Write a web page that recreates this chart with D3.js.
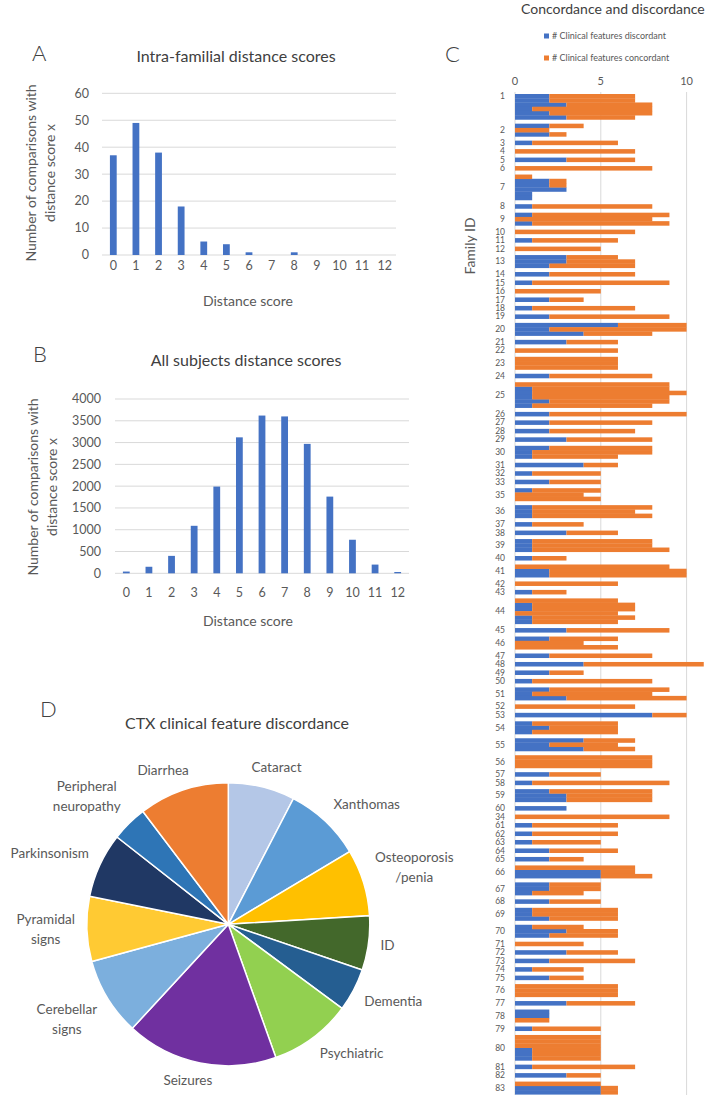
<!DOCTYPE html>
<html lang="en">
<head>
<meta charset="UTF-8">
<title>CTX distance scores and clinical feature discordance</title>
<script src="https://d3js.org/d3.v7.min.js"></script>
<style>
  body { margin: 0; background: #fff; font-family: Lato, "Open Sans", sans-serif; }
  svg text { fill: #595959; }
  .title { fill: #404040; }
  .panel { fill: #404040; font-weight: 300; }
</style>
</head>
<body>
<svg id="fig" width="709" height="1098"></svg>
<script>
// ---- panels A & B: distance score histograms
const scoreLabels = ["0","1","2","3","4","5","6","7","8","9","10","11","12"];
const intraCounts = [37, 49, 38, 18, 5, 4, 1, 0, 1, 0, 0, 0, 0];
const allCounts = [40, 150, 400, 1090, 1990, 3120, 3620, 3600, 2970, 1760, 770, 200, 30];

// ---- panel C: one row per intra-familial comparison
const familyIds = [1,2,3,4,5,6,7,8,9,10,11,12,13,14,15,16,17,18,19,20,21,22,23,24,25,26,27,28,29,30,
  31,32,33,35,36,37,38,39,40,41,42,43,44,45,46,47,48,49,50,51,52,53,54,55,56,57,58,59,60,34,
  61,62,63,64,65,66,67,68,69,70,71,72,73,74,75,76,77,78,79,80,81,82,83];
const discordant = [[2,2,3,1,2,3],[2,0,2],[1],[0],[3],[0],[0,2,2,3,1,1],[1],[1,0,1],[0],[1],[0],[3,3,2],[2],[1],[0],[2],[1],[2],[6,2,4],
  [3],[0],[0,0,0],[2],[0,1,1,1,2,1],[2],[2],[2],[3],[2,1,1],[4],[1],[2],[1,0,0],[1,1,1],[1],[3],[1,1,1],[1],[0,2,2],
  [0],[1],[0,1,1,0,1,1],[3],[2,0,0],[2],[4],[2],[1],[2,1,3],[0],[8],[1,2,1],[4,2,4],[0,0,0],[2],[1],[2,3,3],[3],[0],
  [1],[1],[1],[2],[2],[0,5,5],[2,2,1],[2],[1,1,2],[1,3,2],[0],[3],[2],[1],[2],[0,0,0],[3],[2,2,0],[1],[0,0,0,1,1,1],
  [1],[3],[0,5,5]];
const concordant = [[5,5,5,7,6,4],[2,2,1],[5],[7],[4],[8],[1,1,1,0,0,0],[7],[8,8,8],[7],[5],[5],[3,4,5],[5],[8],[5],[2],[6],[7],[4,8,4],
  [3],[6],[6,6,6],[6],[9,8,9,8,7,7],[8],[6],[5],[5],[6,7,5],[2],[4],[3],[4,4,5],[7,6,7],[3],[3],[7,7,8],[2],[9,8,8],
  [6],[2],[6,6,6,6,6,5],[6],[4,4,6],[6],[7],[2],[7],[7,7,7],[7],[2],[5,4,5],[3,4,3],[8,8,8],[3],[8],[6,5,5],[0],[9],
  [5],[5],[4],[4],[2],[7,2,3],[3,3,3],[3],[5,5,4],[3,3,4],[4],[3],[5],[3],[2],[6,6,6],[4],[0,0,2],[4],[5,5,5,4,4,4],
  [6],[2],[5,1,1]];
const axisTicksC = [0, 5, 10];
const seriesNames = ["# Clinical features discordant", "# Clinical features concordant"];

// ---- panel D: share of discordant features (%)
const featureNames = ["Cataract","Xanthomas","Osteoporosis\n/penia","ID","Dementia","Psychiatric","Seizures",
  "Cerebellar\nsigns","Pyramidal\nsigns","Parkinsonism","Peripheral\nneuropathy","Diarrhea"];
const featureShares = [7.6, 8.8, 7.6, 6.2, 4.9, 9.4, 17.3, 8.9, 7.4, 7.4, 4.1, 10.3];
const featureColors = ["#B4C7E7","#5B9BD5","#FFC000","#43682B","#255E91","#92D050","#7030A0",
  "#7CAFDD","#FFCA33","#203864","#2E75B6","#ED7D31"];

const BLUE = "#4472C4", ORANGE = "#ED7D31", GRID = "#D9D9D9";
const svg = d3.select("#fig");

function panelLetter(t, x, y) {
  svg.append("text").attr("class", "panel").attr("x", x).attr("y", y)
    .attr("font-size", 22).text(t);
}

function histogram(o) {
  const g = svg.append("g");
  const x = d3.scaleBand().domain(scoreLabels).range([o.left, o.right])
    .paddingInner(0.7).paddingOuter(0.35);
  const y = d3.scaleLinear().domain([0, o.max]).range([o.bottom, o.top]);
  const ticks = d3.range(0, o.max + 1, o.step);

  g.selectAll(".grid").data(ticks).join("line")
    .attr("x1", o.left).attr("x2", o.right)
    .attr("y1", d => y(d)).attr("y2", d => y(d))
    .attr("stroke", GRID).attr("stroke-width", 1);

  g.selectAll(".yl").data(ticks).join("text")
    .attr("x", o.tickX).attr("y", d => y(d)).attr("dy", "0.35em")
    .attr("text-anchor", "end").attr("font-size", 12.5).text(d => d);

  g.selectAll("rect").data(o.values).join("rect")
    .attr("x", (d, i) => x(scoreLabels[i])).attr("width", x.bandwidth())
    .attr("y", d => y(d)).attr("height", d => y(0) - y(d))
    .attr("fill", BLUE);

  g.selectAll(".xl").data(scoreLabels).join("text")
    .attr("x", d => x(d) + x.bandwidth() / 2).attr("y", o.bottom + o.labelGap).attr("dy", "0.35em")
    .attr("text-anchor", "middle").attr("font-size", 12.5).text(d => d);

  g.append("text").attr("class", "title").attr("x", o.titleX).attr("y", o.titleY)
    .attr("text-anchor", "middle").attr("font-size", 16).text(o.title);

  g.append("text").attr("x", o.xTitleX).attr("y", o.xTitleY).attr("dy", "0.35em")
    .attr("text-anchor", "middle").attr("font-size", 14).text("Distance score");

  const yt = g.append("text").attr("text-anchor", "middle").attr("font-size", 14)
    .attr("transform", `translate(${o.yTitleX},${o.yTitleY}) rotate(-90)`);
  yt.append("tspan").attr("x", 0).attr("dy", "-0.3em").text("Number of comparisons with");
  yt.append("tspan").attr("x", 0).attr("dy", "1.4em").text("distance score x");
}

// Panel A
panelLetter("A", 32, 61);
histogram({
  values: intraCounts, max: 60, step: 10,
  left: 102, right: 396, top: 93.3, bottom: 255, tickX: 89, labelGap: 11,
  title: "Intra-familial distance scores", titleX: 236, titleY: 62,
  xTitleX: 248, xTitleY: 301, yTitleX: 40, yTitleY: 173
});

// Panel B
panelLetter("B", 33, 362);
histogram({
  values: allCounts, max: 4000, step: 500,
  left: 115, right: 409, top: 399, bottom: 573.3, tickX: 101, labelGap: 19,
  title: "All subjects distance scores", titleX: 246, titleY: 366,
  xTitleX: 248, xTitleY: 621, yTitleX: 42, yTitleY: 487
});

// ---- Panel C
(function () {
  const g = svg.append("g");
  // build row keys: comparisons, with one blank row between families
  const rows = [];
  const blocks = [];
  familyIds.forEach((id, fi) => {
    if (fi > 0) rows.push({ key: "gap" + fi, gap: true });
    const first = rows.length;
    discordant[fi].forEach((d, k) => {
      rows.push({ key: id + "-" + k, fam: id, d: d, c: concordant[fi][k] });
    });
    blocks.push({ id: id, first: rows[first].key, last: rows[rows.length - 1].key, n: discordant[fi].length });
  });

  const x = d3.scaleLinear().domain([0, 10]).range([515, 686.6]);
  const y = d3.scaleBand().domain(rows.map(r => r.key)).range([94, 1094.3]).padding(0);
  const data = rows.filter(r => !r.gap);

  g.selectAll(".grid").data(axisTicksC).join("line")
    .attr("x1", d => x(d)).attr("x2", d => x(d))
    .attr("y1", 92).attr("y2", 1095)
    .attr("stroke", GRID).attr("stroke-width", 1);

  g.selectAll(".xl").data(axisTicksC).join("text")
    .attr("x", d => x(d)).attr("y", 81).attr("dy", "0.35em")
    .attr("text-anchor", "middle").attr("font-size", 11).text(d => d);

  g.selectAll(".disc").data(data).join("rect")
    .attr("x", x(0)).attr("width", d => x(d.d) - x(0))
    .attr("y", d => y(d.key)).attr("height", y.bandwidth() + 0.3)
    .attr("fill", BLUE);
  g.selectAll(".conc").data(data).join("rect")
    .attr("x", d => x(d.d)).attr("width", d => x(d.d + d.c) - x(d.d))
    .attr("y", d => y(d.key)).attr("height", y.bandwidth() + 0.3)
    .attr("fill", ORANGE);

  // family labels: first one sits at its top row, the others at block centre
  g.selectAll(".fl").data(blocks).join("text")
    .attr("x", 505)
    .attr("y", (b, i) => i === 0 ? y(b.first) + y.bandwidth() / 2
      : (y(b.first) + y(b.last) + y.bandwidth()) / 2)
    .attr("dy", "0.35em").attr("text-anchor", "end").attr("font-size", 8.5)
    .text(b => b.id);

  g.append("text").attr("font-size", 14)
    .attr("transform", "translate(475,246) rotate(-90)")
    .attr("text-anchor", "middle").text("Family ID");

  g.append("text").attr("class", "title").attr("x", 521).attr("y", 14)
    .attr("font-size", 14).text("Concordance and discordance");

  const lg = g.selectAll(".lg").data(seriesNames).join("g")
    .attr("transform", (d, i) => `translate(544,${36 + i * 22})`);
  lg.append("rect").attr("x", 0).attr("y", -2.5).attr("width", 5).attr("height", 5)
    .attr("fill", (d, i) => i === 0 ? BLUE : ORANGE);
  lg.append("text").attr("x", 8).attr("dy", "0.35em").attr("font-size", 9).text(d => d);
})();
panelLetter("C", 445, 62);

// ---- Panel D
panelLetter("D", 40, 717);
(function () {
  const cx = 228.3, cy = 924.3, r = 141.5;
  const g = svg.append("g").attr("transform", `translate(${cx},${cy})`);
  const pie = d3.pie().sort(null).value(d => d)(featureShares);
  const arc = d3.arc().innerRadius(0).outerRadius(r);

  g.selectAll("path").data(pie).join("path")
    .attr("d", arc).attr("fill", (d, i) => featureColors[i])
    .attr("stroke", "#fff").attr("stroke-width", 1.5);

  svg.append("text").attr("class", "title").attr("x", 237).attr("y", 729)
    .attr("font-size", 16).attr("text-anchor", "middle").text("CTX clinical feature discordance");

  const lineH = 20, fs = 13.5;
  pie.forEach((p, i) => {
    const a = (p.startAngle + p.endAngle) / 2;
    const lines = featureNames[i].split("\n");
    const t = g.append("text").attr("font-size", fs).attr("text-anchor", "middle");
    lines.forEach((s, k) => t.append("tspan").attr("x", 0).attr("y", k * lineH).text(s));
    const w = d3.max(t.selectAll("tspan").nodes(), n => n.getComputedTextLength());
    const h = (lines.length - 1) * lineH + 14;
    const px = (r + 12) * Math.sin(a), py = -(r + 12) * Math.cos(a);
    const clamp = v => Math.max(-1, Math.min(1, v));
    const lx = px + clamp(2 * Math.sin(a)) * w / 2;
    const ly = py - clamp(2 * Math.cos(a)) * h / 2;
    // centre the text block on (lx, ly)
    t.attr("transform", `translate(${lx},${ly - h / 2 + 10.5})`);
  });
})();
</script>
</body>
</html>
